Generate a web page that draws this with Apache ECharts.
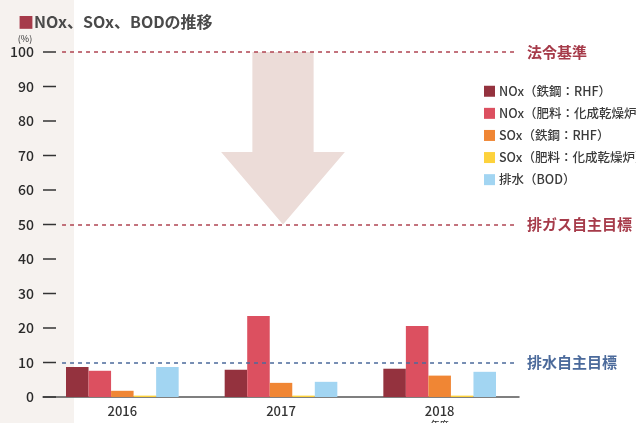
<!DOCTYPE html>
<html><head><meta charset="utf-8">
<script src="https://cdn.jsdelivr.net/npm/echarts@6/dist/echarts.min.js"></script>
<style>html,body{margin:0;padding:0;background:#fff}#c{width:636px;height:423px}</style>
</head><body><div id="c"></div>
<script>
const years = ['2016', '2017', '2018'];
const seriesNames = ['NOx（鉄鋼：RHF）', 'NOx（肥料：化成乾燥炉）', 'SOx（鉄鋼：RHF）', 'SOx（肥料：化成乾燥炉）', '排水（BOD）'];
const noxSteel = [8.7, 7.9, 8.2];
const noxFert = [7.6, 23.5, 20.6];
const soxSteel = [1.8, 4.1, 6.2];
const soxFert = [0.4, 0.4, 0.4];
const bod = [8.7, 4.4, 7.3];
const yTicks = [0, 10, 20, 30, 40, 50, 60, 70, 80, 90, 100];
const refLines = [
  {name: '法令基準', value: 100, color: '#b04452', text: '#a63b4a'},
  {name: '排ガス自主目標', value: 50, color: '#b04452', text: '#a63b4a'},
  {name: '排水自主目標', value: 10, color: '#4b6a9b', text: '#4b6a9b'}
];
const arrowData = [['2017', 100, 71, 50]];

const colors = ['#94323e', '#dc5060', '#f08634', '#fdd23c', '#a2d5f2'];
const values = [noxSteel, noxFert, soxSteel, soxFert, bod];
const FONT = '"Noto Sans CJK JP", "Noto Sans", sans-serif';

const chart = echarts.init(document.getElementById('c'));
const barSeries = values.map((v, i) => ({
  name: seriesNames[i], type: 'bar', data: v, xAxisIndex: 0,
  barWidth: '14.2%', barGap: '0%', itemStyle: {color: colors[i]}, z: 3
}));

chart.setOption({
  animation: false,
  textStyle: {fontFamily: FONT},
  graphic: [{type: 'rect', left: 0, top: 0, shape: {width: 74, height: 423}, style: {fill: '#f6f2ef'}, z: -10}],
  title: {
    left: 13, top: 9,
    text: '{sq|■}NOx、SOx、BODの推移',
    textStyle: {fontSize: 16, fontWeight: 'bold', color: '#4a4a4a', fontFamily: FONT,
      rich: {sq: {color: '#a63b4a', fontSize: 16, fontFamily: FONT}}}
  },
  legend: {
    orient: 'vertical', left: 479, top: 80, itemWidth: 11, itemHeight: 11, itemGap: 9.6,
    icon: 'rect', data: seriesNames,
    textStyle: {fontSize: 12.5, color: '#3a3a3a', fontWeight: 500, fontFamily: FONT, padding: [0, 0, 0, -1]}
  },
  grid: {left: 43, right: 117, top: 52, bottom: 26, containLabel: false, outerBoundsMode: 'none'},
  xAxis: [{
    type: 'category', data: years,
    axisLine: {lineStyle: {color: '#555', width: 1.5}},
    axisTick: {length: 7, lineStyle: {color: '#555', width: 1.5}},
    axisLabel: {color: '#333', fontSize: 13, fontWeight: 500, margin: 8,
      formatter: v => v === '2018' ? v + '\n{s|年度}' : v,
      rich: {s: {fontSize: 9, color: '#333', lineHeight: 14}}}
  }, {
    type: 'value', min: 0, max: 1, show: false
  }],
  yAxis: {
    type: 'value', min: yTicks[0], max: yTicks[yTicks.length - 1], interval: yTicks[1] - yTicks[0],
    name: '(%)', nameLocation: 'end', nameGap: 9,
    nameTextStyle: {fontSize: 9, color: '#333', align: 'center', padding: [0, 36, 0, 0]},
    axisLine: {show: false},
    axisTick: {show: false},
    axisLabel: {color: '#2a2a2a', fontSize: 14, fontWeight: 500, margin: -13,
      formatter: v => v + '{g|}{t|}',
      rich: {
        g: {width: 9, height: 2},
        t: {width: 13, height: 1.5, backgroundColor: '#333', verticalAlign: 'middle'}
      }},
    splitLine: {show: false}
  },
  series: [{
    type: 'custom', xAxisIndex: 0, z: 1, silent: true,
    data: arrowData,
    renderItem: (params, api) => {
      const x = api.value(0);
      const top = api.coord([x, api.value(1)]);
      const mid = api.coord([x, api.value(2)]);
      const tip = api.coord([x, api.value(3)]);
      const band = api.size([1, 0])[0];
      const cx = top[0] + 2, s = band * 0.193, h = band * 0.39;
      return {type: 'polygon', shape: {points: [
        [cx - s, top[1]], [cx + s, top[1]], [cx + s, mid[1]], [cx + h, mid[1]],
        [cx, tip[1]], [cx - h, mid[1]], [cx - s, mid[1]]]},
        style: {fill: '#ecdcd8'}};
    }
  }, ...barSeries, {
    type: 'line', xAxisIndex: 1, data: [], z: 5,
    markLine: {
      symbol: 'none', silent: true, animation: false,
      data: refLines.map(r => [
        {coord: [0.04, r.value], lineStyle: {color: r.color, type: [4, 4], width: 1.5},
          label: {show: true, position: 'end', formatter: r.name, color: r.text, fontSize: 15,
            fontWeight: 'bold', distance: 10, fontFamily: FONT}},
        {coord: [0.996, r.value]}
      ])
    }
  }]
});
</script></body></html>
